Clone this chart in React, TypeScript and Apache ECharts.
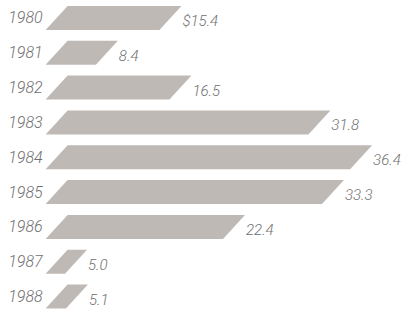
import React, { useEffect, useRef } from "react";
import * as echarts from "echarts";

const years = ["1980", "1981", "1982", "1983", "1984", "1985", "1986", "1987", "1988"];
const values = [15.4, 8.4, 16.5, 31.8, 36.4, 33.3, 22.4, 5.0, 5.1];
const valueLabels = ["$15.4", "8.4", "16.5", "31.8", "36.4", "33.3", "22.4", "5.0", "5.1"];

const BAR_COLOR = "#bfb9b5";
const TEXT_COLOR = "#707070";
const FONT = "Roboto, 'Liberation Sans', sans-serif";

export default function App() {
  const ref = useRef<HTMLDivElement>(null);
  useEffect(() => {
    if (!ref.current) return;
    const chart = echarts.init(ref.current, undefined, { renderer: "svg" });
    const H = 24;
    const S = 22;
    chart.setOption({
      animation: false,
      backgroundColor: "#ffffff",
      grid: { left: 41.6, top: 0.5, width: 9.08 * 39, height: 316, containLabel: false },
      xAxis: {
        type: "value",
        min: 0,
        max: 39,
        show: false,
      },
      yAxis: {
        type: "category",
        data: years,
        inverse: true,
        axisLine: { show: false },
        axisTick: { show: false },
        splitLine: { show: false },
        axisLabel: {
          margin: -1,
          color: TEXT_COLOR,
          fontFamily: FONT,
          fontStyle: "italic",
          fontWeight: 300,
          fontSize: 16,
          padding: [6, 0, 0, 0],
        },
      },
      series: [
        {
          type: "custom",
          data: values.map((v, i) => [v, i]),
          encode: { x: 0, y: 1 },
          renderItem: (params: any, api: any) => {
            const v = api.value(0);
            const i = api.value(1);
            const [xr, yc] = api.coord([v, i]);
            const [x0] = api.coord([0, i]);
            const yt = yc - H / 2;
            const yb = yc + H / 2;
            const blx = x0 + 4;
            const tlx = Math.min(x0 + 26, xr - 6);
            return {
              type: "group",
              children: [
                {
                  type: "polygon",
                  shape: {
                    points: [
                      [tlx, yt],
                      [xr, yt],
                      [xr - S, yb],
                      [blx, yb],
                    ],
                  },
                  style: { fill: BAR_COLOR },
                },
                {
                  type: "text",
                  x: xr + 1,
                  y: yc + 3,
                  style: {
                    text: valueLabels[params.dataIndex],
                    fill: TEXT_COLOR,
                    font: `italic 300 15px ${FONT}`,
                    align: "left",
                    verticalAlign: "middle",
                  },
                },
              ],
            };
          },
        },
      ],
    });
    return () => chart.dispose();
  }, []);
  return (
    <div
      ref={ref}
      style={{ position: "absolute", left: 0, top: 0, width: 404, height: 314 }}
    />
  );
}
